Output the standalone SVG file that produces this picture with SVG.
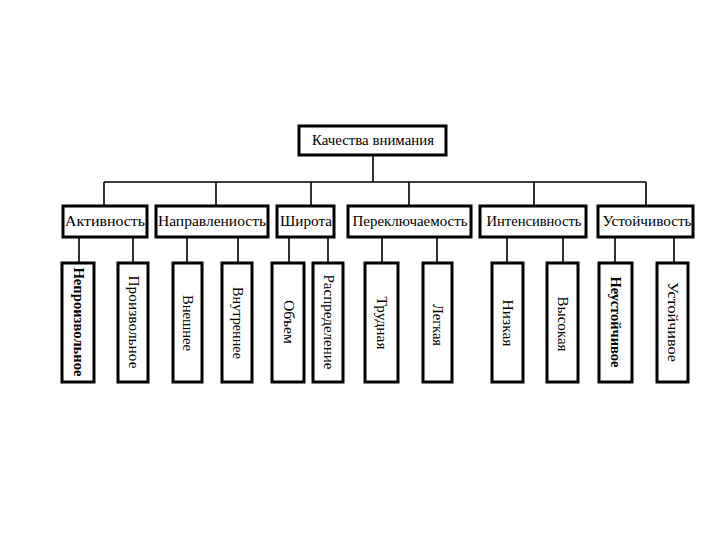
<svg xmlns="http://www.w3.org/2000/svg" width="720" height="540" viewBox="0 0 720 540">
<style>
.box{fill:#fff;stroke:#000;stroke-width:3}
.ln{stroke:#000;stroke-width:1.6;fill:none}
text{font-family:"Liberation Serif","Times New Roman",serif;fill:#000}
.t{font-size:14px;text-anchor:middle}
.v{font-size:14px;text-anchor:middle;dominant-baseline:central}
</style>
<rect width="720" height="540" fill="#fff"/>
<g id="connectors">
<path class="ln" d="M373 155V182M104 182H646M104 182V206M216 182V206M311 182V206M409 182V206M534 182V206M646 182V206"/>
<path class="ln" d="M79 237V263M133 237V263M187 237V263M238 237V263M289 237V263M328 237V263M382 237V263M437 237V263M507 237V263M563 237V263M615 237V263M674 237V263"/>
</g>
<g id="root"><rect class="box" x="299" y="126" width="147" height="29"/><text class="t" x="373" y="145" textLength="122" lengthAdjust="spacingAndGlyphs">Качества внимания</text></g>
<g id="n1"><rect class="box" x="63" y="206" width="84" height="31"/><text class="t" x="105" y="226" textLength="80" lengthAdjust="spacingAndGlyphs">Активность</text></g>
<g id="n2"><rect class="box" x="156" y="206" width="112" height="31"/><text class="t" x="212" y="226" textLength="108" lengthAdjust="spacingAndGlyphs">Направлениость</text></g>
<g id="n3"><rect class="box" x="277" y="206" width="57" height="31"/><text class="t" x="306" y="226" textLength="52" lengthAdjust="spacingAndGlyphs">Широта</text></g>
<g id="n4"><rect class="box" x="348" y="206" width="123" height="31"/><text class="t" x="410" y="226" textLength="115" lengthAdjust="spacingAndGlyphs">Переключаемость</text></g>
<g id="n5"><rect class="box" x="480" y="206" width="106" height="31"/><text class="t" x="534" y="226" textLength="95" lengthAdjust="spacingAndGlyphs">Интенсивность</text></g>
<g id="n6"><rect class="box" x="598" y="206" width="95" height="31"/><text class="t" x="647" y="226" textLength="89" lengthAdjust="spacingAndGlyphs">Устойчивость</text></g>
<g id="l1"><rect class="box" x="62" y="263" width="32" height="119"/><text class="v" x="78" y="322" font-weight="bold" transform="rotate(90 78 322)" textLength="109" lengthAdjust="spacingAndGlyphs">Непроизвольное</text></g>
<g id="l2"><rect class="box" x="118" y="263" width="30" height="119"/><text class="v" x="133" y="322" transform="rotate(90 133 322)" textLength="93" lengthAdjust="spacingAndGlyphs">Произвольное</text></g>
<g id="l3"><rect class="box" x="173" y="263" width="29" height="119"/><text class="v" x="187" y="323" transform="rotate(90 187 323)" textLength="56" lengthAdjust="spacingAndGlyphs">Внешнее</text></g>
<g id="l4"><rect class="box" x="222" y="263" width="30" height="119"/><text class="v" x="237" y="323" transform="rotate(90 237 323)" textLength="72" lengthAdjust="spacingAndGlyphs">Внутреннее</text></g>
<g id="l5"><rect class="box" x="272" y="263" width="32" height="119"/><text class="v" x="288" y="322" transform="rotate(90 288 322)" textLength="44" lengthAdjust="spacingAndGlyphs">Объем</text></g>
<g id="l6"><rect class="box" x="313" y="263" width="30" height="119"/><text class="v" x="328" y="322" transform="rotate(90 328 322)" textLength="95" lengthAdjust="spacingAndGlyphs">Распределение</text></g>
<g id="l7"><rect class="box" x="365" y="263" width="33" height="119"/><text class="v" x="381" y="323" transform="rotate(90 381 323)" textLength="53" lengthAdjust="spacingAndGlyphs">Трудная</text></g>
<g id="l8"><rect class="box" x="423" y="263" width="29" height="119"/><text class="v" x="437" y="325" transform="rotate(90 437 325)" textLength="42" lengthAdjust="spacingAndGlyphs">Легкая</text></g>
<g id="l9"><rect class="box" x="492" y="263" width="31" height="119"/><text class="v" x="507" y="323" transform="rotate(90 507 323)" textLength="47" lengthAdjust="spacingAndGlyphs">Низкая</text></g>
<g id="l10"><rect class="box" x="547" y="263" width="31" height="119"/><text class="v" x="562" y="324" transform="rotate(90 562 324)" textLength="55" lengthAdjust="spacingAndGlyphs">Высокая</text></g>
<g id="l11"><rect class="box" x="599" y="263" width="33" height="119"/><text class="v" x="615" y="322" font-weight="bold" transform="rotate(90 615 322)" textLength="91" lengthAdjust="spacingAndGlyphs">Неустойчивое</text></g>
<g id="l12"><rect class="box" x="657" y="263" width="31" height="119"/><text class="v" x="672" y="322" transform="rotate(90 672 322)" textLength="80" lengthAdjust="spacingAndGlyphs">Устойчивое</text></g>
</svg>
